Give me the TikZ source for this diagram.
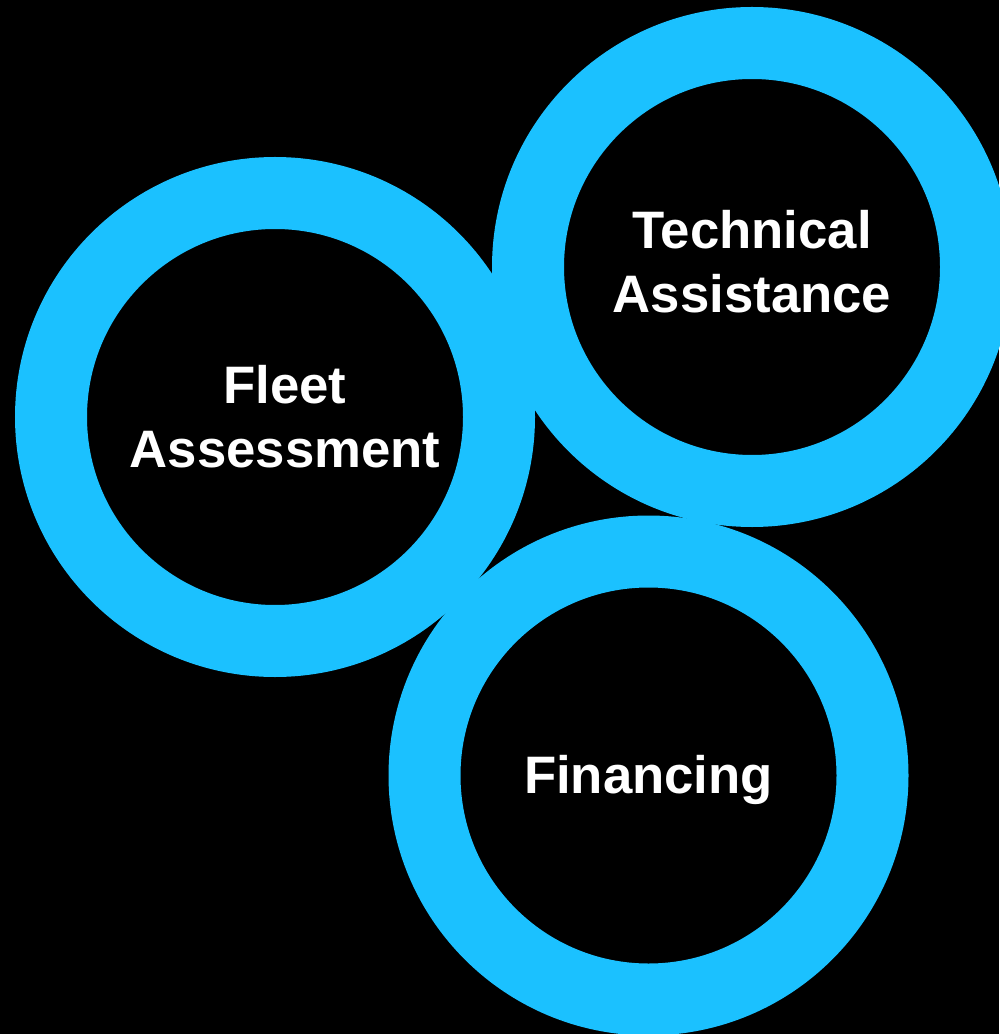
\documentclass[tikz,border=0pt]{standalone}
\usepackage{fontspec}
\setmainfont{Liberation Sans}
\usetikzlibrary{positioning}
\definecolor{ringcyan}{RGB}{27,193,255}

\begin{document}
\begin{tikzpicture}[
    ring/.style={circle, draw=ringcyan, line width=0.72cm, inner sep=0pt,
                 minimum size=4.48cm},
    caption/.style={text=white, font=\fontsize{15}{18.2}\selectfont\bfseries,
                    align=center}]

\fill[black] (0,0) rectangle (9.99,-10.34);
\useasboundingbox (0,0) rectangle (9.99,-10.34);

\node (fleet)   [ring] at (2.75,-4.17) {};
\node (tech)    [ring] at (7.52,-2.67) {};
\node (finance) [ring] at (6.485,-7.755) {};

\node (fleettxt)   [caption, xshift=1mm] at (fleet)   {Fleet\\Assessment};
\node (techtxt)    [caption, yshift=0.5mm] at (tech)  {Technical\\Assistance};
\node (financetxt) [caption, yshift=-0.4mm] at (finance) {Financing};
\end{tikzpicture}
\end{document}
